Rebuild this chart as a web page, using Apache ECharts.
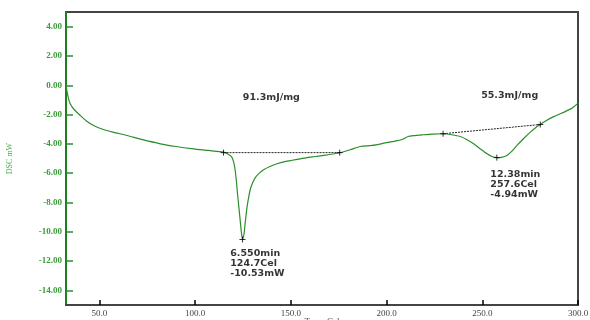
<!DOCTYPE html>
<html>
<head>
<meta charset="utf-8">
<script src="https://cdn.jsdelivr.net/npm/echarts@6/dist/echarts.min.js"></script>
<style>html,body{margin:0;padding:0;background:#fff}#c{width:590px;height:320px}</style>
</head>
<body>
<div id="c"></div>
<script>
// Temperature (Cel) and DSC heat flow (mW)
var temps = [32.5,33.0,33.8,34.7,36.5,40,43,46.9,52,57,64.4,72,81.8,90,99.2,107,114.8,117.5,119.2,120.2,120.9,121.5,122.1,122.8,123.5,124.1,124.7,125.5,126.2,127.1,128.0,128.8,130,131.4,133.5,135.8,139,142.7,148,154.9,162,168.9,175.5,181,186.3,192.5,200,205,207.7,209.5,211.2,214,219,224,229.5,234,238.5,242,245.5,249,252.5,255,257.6,260,262.9,265.5,268.1,271.5,275.1,278,280.3,283.5,287.3,291,294.3,297,300];
var dsc = [0.02,-0.4,-0.9,-1.27,-1.62,-2.07,-2.42,-2.75,-3.02,-3.2,-3.43,-3.7,-4.0,-4.18,-4.34,-4.45,-4.57,-4.72,-4.92,-5.3,-5.82,-6.5,-7.4,-8.3,-9.22,-10.0,-10.53,-10.15,-9.3,-8.3,-7.6,-7.1,-6.65,-6.3,-6.0,-5.77,-5.55,-5.36,-5.18,-5.02,-4.88,-4.75,-4.61,-4.4,-4.18,-4.11,-3.92,-3.8,-3.72,-3.62,-3.5,-3.44,-3.38,-3.33,-3.31,-3.38,-3.5,-3.72,-4.0,-4.35,-4.68,-4.86,-4.94,-4.92,-4.79,-4.5,-4.11,-3.65,-3.2,-2.88,-2.68,-2.4,-2.14,-1.93,-1.73,-1.55,-1.22];
var xTicks = [50,100,150,200,250,300];
var yTicks = [-14,-12,-10,-8,-6,-4,-2,0,2,4];
// marked points: peak 1 baseline start/end, peak 2 baseline start/end, peak tops
var base1 = [[114.8,-4.6],[175.5,-4.6]];
var base2 = [[229.5,-3.31],[280.3,-2.68]];
var peaks = [[124.7,-10.53],[257.6,-4.94]];
var enthalpy = [{t:139.8,v:-0.84,text:'91.3mJ/mg'},{t:264.3,v:-0.70,text:'55.3mJ/mg'}];
var peakInfo = [{t:118.3,v:-11.17,text:'6.550min\n124.7Cel\n-10.53mW'},{t:254.2,v:-5.75,text:'12.38min\n257.6Cel\n-4.94mW'}];

var curve = temps.map(function(t,i){return [t,dsc[i]];});
var crosses = base1.concat(base2).concat(peaks);

var chart = echarts.init(document.getElementById('c'));
var green = '#2a8f2a';
chart.setOption({
  animation:false,
  grid:{left:66,right:12,top:12,bottom:15,containLabel:false,outerBoundsMode:'none',
    show:true,borderColor:'#444',borderWidth:2,backgroundColor:'transparent'},
  xAxis:{type:'value',min:32.5,max:300,
    name:'Temp Cel',nameLocation:'middle',nameGap:12,nameMoveOverlap:false,
    nameTextStyle:{fontFamily:'Liberation Serif',fontSize:9,color:'#444',verticalAlign:'top'},
    axisLine:{show:true,onZero:false,lineStyle:{color:'#444',width:2}},
    axisTick:{show:true,inside:true,length:5,customValues:xTicks,lineStyle:{color:'#000',width:1.5}},
    axisLabel:{customValues:xTicks,margin:4,fontFamily:'Liberation Serif',fontSize:9,color:'#444',
      formatter:function(v){return v.toFixed(1);}},
    splitLine:{show:false}},
  yAxis:{type:'value',min:-15,max:5,
    name:'DSC mW',nameLocation:'middle',nameGap:52,nameRotate:90,nameMoveOverlap:false,
    nameTextStyle:{fontFamily:'Liberation Serif',fontSize:8,color:'#4aa84a'},
    axisLine:{show:true,onZero:false,lineStyle:{color:'#1f7f1f',width:2}},
    axisTick:{show:true,inside:true,length:7,customValues:yTicks,lineStyle:{color:green,width:1.5}},
    axisLabel:{customValues:yTicks,margin:4,fontFamily:'Liberation Serif',fontSize:9,fontWeight:'bold',color:'#3a9a3a',
      formatter:function(v){return v.toFixed(2);}},
    splitLine:{show:false}},
  series:[
    {type:'line',data:curve,smooth:0.25,showSymbol:false,lineStyle:{color:green,width:1.2},z:3},
    {type:'line',data:base1,showSymbol:false,lineStyle:{color:'#222',width:1,type:[2,1]},z:2},
    {type:'line',data:base2,showSymbol:false,lineStyle:{color:'#222',width:1,type:[2,1]},z:2},
    {type:'scatter',data:crosses,symbol:'path://M0,3L6,3M3,0L3,6',symbolSize:6,
      itemStyle:{color:'none',borderColor:'#000',borderWidth:1},z:4},
    {type:'scatter',symbolSize:0,data:enthalpy.map(function(d){return {value:[d.t,d.v],label:{formatter:d.text}};}),
      label:{show:true,position:'inside',fontFamily:'DejaVu Sans',fontWeight:'bold',fontSize:9.5,color:'#000'},z:5},
    {type:'scatter',symbolSize:0,data:peakInfo.map(function(d){return {value:[d.t,d.v],label:{formatter:d.text}};}),
      label:{show:true,position:[0,0],align:'left',verticalAlign:'top',lineHeight:10,fontFamily:'DejaVu Sans',fontWeight:'bold',fontSize:9.5,color:'#000'},z:5}
  ]
});
</script>
</body>
</html>
